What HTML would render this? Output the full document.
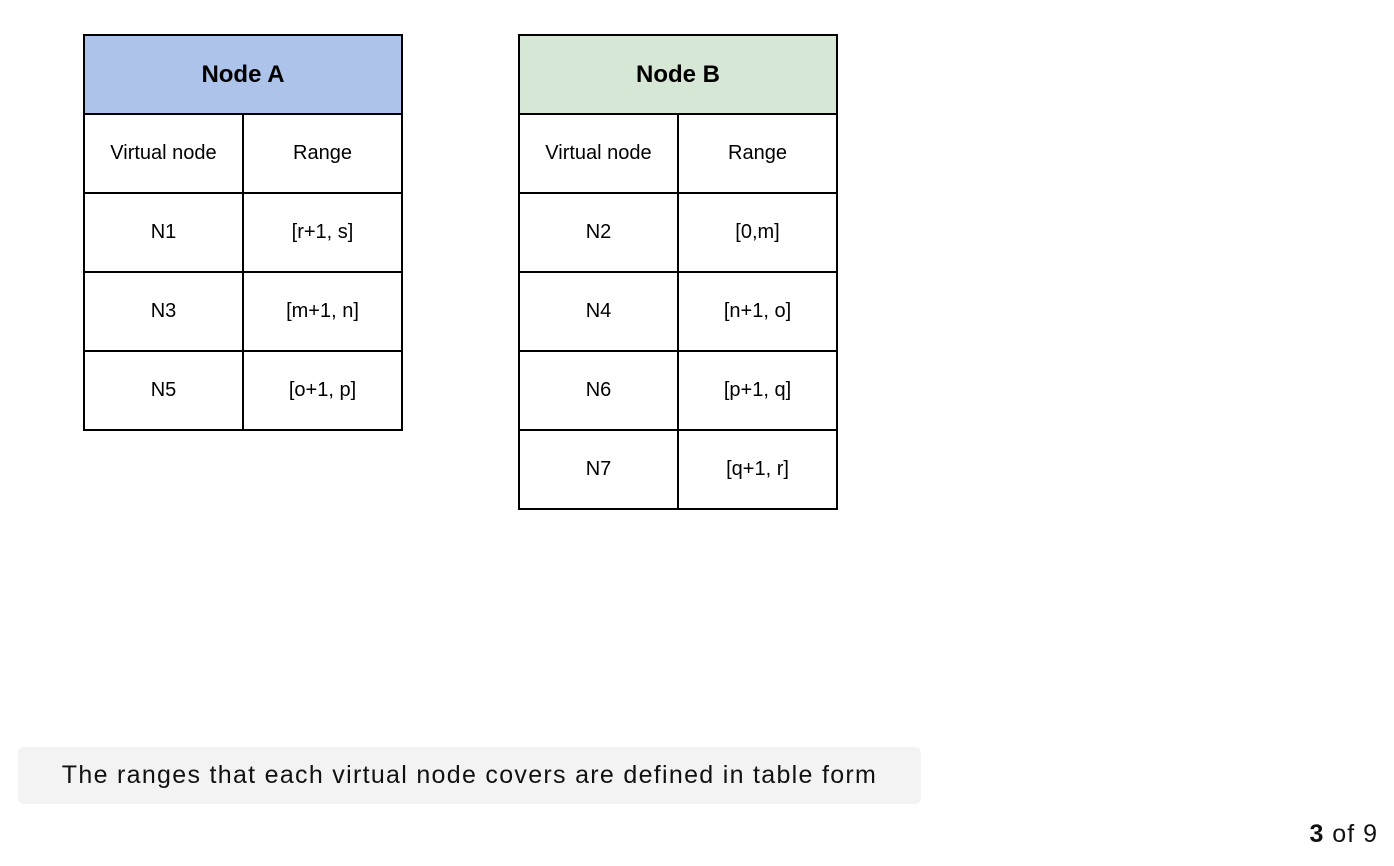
<!DOCTYPE html>
<html><head><meta charset="utf-8"><style>
body{margin:0;width:1394px;height:866px;background:#fff;position:relative;font-family:"Liberation Sans",sans-serif;overflow:hidden}
.t{position:absolute;border-collapse:collapse}
.t td{border:2px solid #000;width:157px;height:77px;text-align:center;font-size:20px;color:#000;padding:0}
.t td.h{font-weight:bold;font-size:24px}
.cap{position:absolute;left:18px;top:747px;width:903px;height:57px;background:#f3f3f3;border-radius:6px;font-size:25px;letter-spacing:1.3px;line-height:57px;text-align:center;color:#111}
.pg{position:absolute;right:16px;top:820px;font-size:25px;letter-spacing:1px;color:#111}
</style></head><body>
<table class="t" style="left:83px;top:34px">
<tr><td colspan="2" class="h" style="background:#adc3e9">Node A</td></tr>
<tr><td>Virtual node</td><td>Range</td></tr>
<tr><td>N1</td><td>[r+1, s]</td></tr>
<tr><td>N3</td><td>[m+1, n]</td></tr>
<tr><td>N5</td><td>[o+1, p]</td></tr>
</table>
<table class="t" style="left:518px;top:34px">
<tr><td colspan="2" class="h" style="background:#d6e7d5">Node B</td></tr>
<tr><td>Virtual node</td><td>Range</td></tr>
<tr><td>N2</td><td>[0,m]</td></tr>
<tr><td>N4</td><td>[n+1, o]</td></tr>
<tr><td>N6</td><td>[p+1, q]</td></tr>
<tr><td>N7</td><td>[q+1, r]</td></tr>
</table>
<div class="cap">The ranges that each virtual node covers are defined in table form</div>
<div class="pg"><b>3</b> of 9</div>
</body></html>
